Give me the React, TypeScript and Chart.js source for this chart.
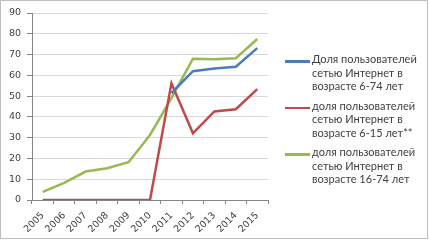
import React, { useEffect, useRef } from "react";
import { Chart, registerables } from "chart.js";

Chart.register(...registerables);

const years = ["2005", "2006", "2007", "2008", "2009", "2010", "2011", "2012", "2013", "2014", "2015"];
const share6to74: (number | null)[] = [null, null, null, null, null, null, 51.4, 62, 63.3, 64.1, 73.1];
const share6to15: (number | null)[] = [0, 0, 0, 0, 0, 0, 56.2, 32.1, 42.6, 43.7, 53.4];
const share16to74: (number | null)[] = [3.9, 8.2, 13.7, 15.3, 18.2, 31.3, 49, 68, 67.7, 68.2, 77.5];
const yTicks = [0, 10, 20, 30, 40, 50, 60, 70, 80, 90];

const seriesNames = [
  ["Доля пользователей", "сетью Интернет в", "возрасте 6-74 лет"],
  ["доля пользователей", "сетью Интернет в", "возрасте 6-15 лет**"],
  ["доля пользователей", "сетью Интернет в", "возрасте 16-74 лет"],
];
const colors = ["#4a7ebb", "#be4b48", "#98b954"];

export default function App() {
  const ref = useRef<HTMLCanvasElement>(null);
  useEffect(() => {
    document.body.style.margin = "0";
    const tickFont = { family: "DejaVu Sans", size: 9.5 };
    const chart = new Chart(ref.current!, {
      type: "line",
      data: {
        labels: years,
        datasets: [share6to74, share6to15, share16to74].map((d, i) => ({
          label: seriesNames[i].join(" "),
          data: d,
          borderColor: colors[i],
          backgroundColor: colors[i],
          borderWidth: 2.5,
          pointRadius: 0,
          tension: 0,
          spanGaps: false,
        })),
      },
      options: {
        animation: false,
        responsive: false,
        maintainAspectRatio: false,
        layout: { padding: { left: 0, top: 13, right: 161, bottom: 0 } },
        plugins: { legend: { display: false }, tooltip: { enabled: false } },
        scales: {
          x: {
            offset: true,
            grid: { offset: true, drawOnChartArea: false, tickLength: 4, color: "#868686" },
            border: { color: "#868686" },
            ticks: { font: tickFont, color: "#404040", maxRotation: 45, minRotation: 45, autoSkip: false, padding: 6 },
            afterFit: (s: any) => { s.height = 40; },
          },
          y: {
            min: 0,
            max: 90,
            afterBuildTicks: (s: any) => { s.ticks = yTicks.map((v) => ({ value: v })); },
            grid: { color: "#d9d9d9", tickLength: 5, tickColor: "#868686" },
            border: { color: "#868686" },
            ticks: { font: tickFont, color: "#404040", padding: 6 },
            afterFit: (s: any) => { s.width = 32; },
          },
        },
      },
    });
    return () => chart.destroy();
  }, []);

  return (
    <div style={{ position: "fixed", left: 0, top: 0, width: 429, height: 240, background: "#fff" }}>
      <div style={{ position: "absolute", left: 0, top: 0, width: 428, height: 239, boxSizing: "border-box", border: "1px solid #bfbfbf" }} />
      <canvas ref={ref} width={429} height={240} style={{ position: "absolute", left: 0, top: 0, width: 429, height: 240 }} />
      {seriesNames.map((lines, i) => (
        <div key={i} style={{ position: "absolute", left: 285, top: 52 + i * 46.7, fontFamily: "Lato", fontSize: 11, lineHeight: "13.5px", color: "#404040" }}>
          <div style={{ position: "absolute", left: 0, top: 8, width: 25, height: 2.5, background: colors[i] }} />
          <div style={{ position: "absolute", left: 27, top: 0, whiteSpace: "nowrap" }}>
            {lines.map((l, j) => (<div key={j}>{l}</div>))}
          </div>
        </div>
      ))}
    </div>
  );
}
